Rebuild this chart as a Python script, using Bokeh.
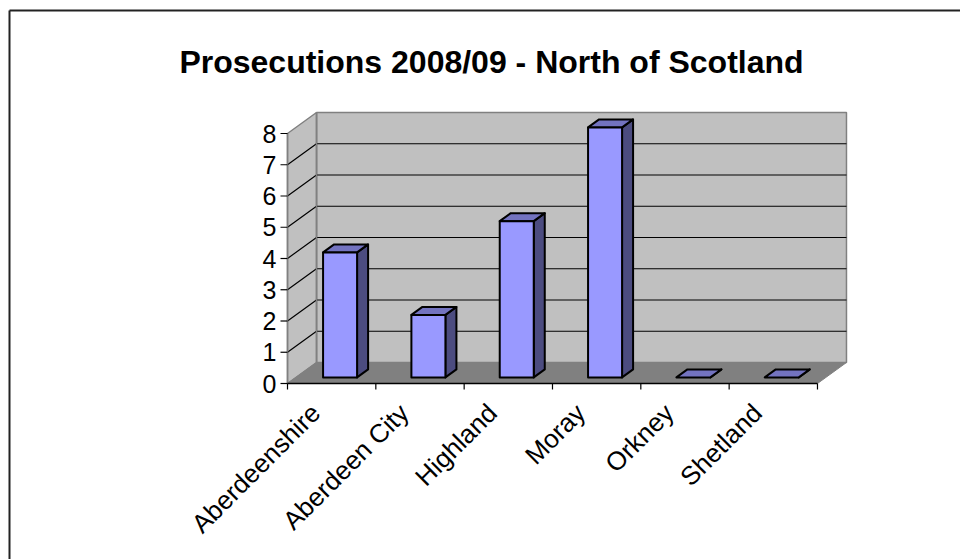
import numpy as np
from bokeh.plotting import figure
from bokeh.models import Range1d
from bokeh.core.properties import value
from bokeh.embed import file_html
from bokeh.resources import INLINE

# ---------------- data ----------------
title_text = "Prosecutions 2008/09 - North of Scotland"
categories = ["Aberdeenshire", "Aberdeen City", "Highland", "Moray", "Orkney", "Shetland"]
prosecutions = [4, 2, 5, 8, 0, 0]
y_ticks = [0, 1, 2, 3, 4, 5, 6, 7, 8]
y_max = 8

# ---------------- layout (pixels) ----------------
W, H = 960, 559
X0, Y0 = 287, 383          # front-left corner of the floor
CAT_PX = 88.33             # pixels per category
VAL_PX = 31.25             # pixels per unit
DEPTH_X, DEPTH_Y = 29, 21  # 3-D depth offset of the back wall
BAR_HALF = 0.1925          # half bar width (category units)
BAR_D1, BAR_D2 = 0.29, 0.67  # bar depth extent (fraction of depth)
FONT = "Liberation Sans"

ddx = DEPTH_X / CAT_PX
ddy = DEPTH_Y / VAL_PX


def px(x):
    return (x - X0) / CAT_PX


def py(y):
    return (Y0 - y) / VAL_PX


def P(c, v, d):
    return (c + d * ddx, v + d * ddy)


def poly(pts):
    return [q[0] for q in pts], [q[1] for q in pts]


n = len(categories)

p = figure(width=W, height=H, x_range=Range1d(px(0), px(W)), y_range=Range1d(py(H), py(0)),
           output_backend="svg", toolbar_location=None, min_border=0,
           x_axis_location=None, y_axis_location=None, title=None)
p.grid.visible = False
p.outline_line_color = None
p.background_fill_color = "white"
p.border_fill_color = "white"

# ---------------- walls & floor ----------------
walls = [
    [P(0, 0, 1), P(n, 0, 1), P(n, y_max, 1), P(0, y_max, 1)],      # back wall
    [P(0, 0, 0), P(0, 0, 1), P(0, y_max, 1), P(0, y_max, 0)],      # side wall
]
wx, wy = zip(*[poly(w) for w in walls])
p.patches(list(wx), list(wy), fill_color="#C0C0C0", line_color="#808080", line_width=1.5)

floor = [P(0, 0, 0), P(n, 0, 0), P(n, 0, 1), P(0, 0, 1)]
fx, fy = poly(floor)
p.patch(fx, fy, fill_color="#808080", line_color="#808080", line_width=1)

# gridlines
gxs, gys = [], []
for t in y_ticks[1:-1]:
    a, b, c = P(0, t, 0), P(0, t, 1), P(n, t, 1)
    gxs.append([a[0], b[0], c[0]])
    gys.append([a[1], b[1], c[1]])
p.multi_line(gxs, gys, line_color="black", line_width=1.2)

ex, ey = poly([P(0, 0, 1), P(0, y_max, 1)])
p.line(ex, ey, line_color="#808080", line_width=1.5)

# ---------------- axes ----------------
a0, a1 = P(0, 0, 0), P(0, y_max, 0)
p.line([a0[0], a1[0]], [a0[1], a1[1]], line_color="#808080", line_width=1.5)
b1 = P(n, 0, 0)
p.line([a0[0], b1[0]], [a0[1], b1[1]], line_color="black", line_width=1.5)

tick_len_y = 7 / CAT_PX
p.segment(x0=[px(X0) - tick_len_y] * len(y_ticks), y0=y_ticks,
          x1=[px(X0)] * len(y_ticks), y1=y_ticks, line_color="black", line_width=1.2)
p.text(x=[px(X0 - 11)] * len(y_ticks), y=y_ticks, text=[str(t) for t in y_ticks],
       text_font=value(FONT), text_font_size=value("25px"), text_color="black",
       text_align="right", text_baseline="middle")

bounds = list(range(n + 1))
p.segment(x0=bounds, y0=[0] * len(bounds), x1=bounds, y1=[-6 / VAL_PX] * len(bounds),
          line_color="black", line_width=1.2)

centers = [i + 0.5 for i in range(n)]
p.text(x=[c - 16 / CAT_PX for c in centers], y=[-25 / VAL_PX] * n, text=categories,
       angle=np.pi / 4, text_font=value(FONT), text_font_size=value("26px"),
       text_color="black", text_align="right", text_baseline="middle")

# ---------------- bars ----------------
front_x, front_y, top_x, top_y, side_x, side_y = [], [], [], [], [], []
for i, v in enumerate(prosecutions):
    l, r = centers[i] - BAR_HALF, centers[i] + BAR_HALF
    sx, sy = poly([P(r, 0, BAR_D1), P(r, 0, BAR_D2), P(r, v, BAR_D2), P(r, v, BAR_D1)])
    tx, ty = poly([P(l, v, BAR_D1), P(r, v, BAR_D1), P(r, v, BAR_D2), P(l, v, BAR_D2)])
    fx_, fy_ = poly([P(l, 0, BAR_D1), P(r, 0, BAR_D1), P(r, v, BAR_D1), P(l, v, BAR_D1)])
    side_x.append(sx); side_y.append(sy)
    top_x.append(tx); top_y.append(ty)
    front_x.append(fx_); front_y.append(fy_)

p.patches(side_x, side_y, fill_color="#4C4C80", line_color="black", line_width=2, line_join="round")
p.patches(top_x, top_y, fill_color="#7373C0", line_color="black", line_width=2, line_join="round")
p.patches([f for f, v in zip(front_x, prosecutions) if v > 0],
          [f for f, v in zip(front_y, prosecutions) if v > 0],
          fill_color="#9999FF", line_color="black", line_width=2, line_join="round")

# ---------------- title & chart border ----------------
p.text(x=[px(491)], y=[py(61)], text=[title_text], text_font=value(FONT),
       text_font_size=value("32px"), text_font_style="bold", text_color="black",
       text_align="center", text_baseline="alphabetic")

p.segment(x0=[px(9), px(9)], y0=[py(10), py(10)], x1=[px(9), px(W + 5)], y1=[py(H + 5), py(10)],
          line_color="#222222", line_width=2)

open("out.html", "w").write(file_html(p, INLINE))
